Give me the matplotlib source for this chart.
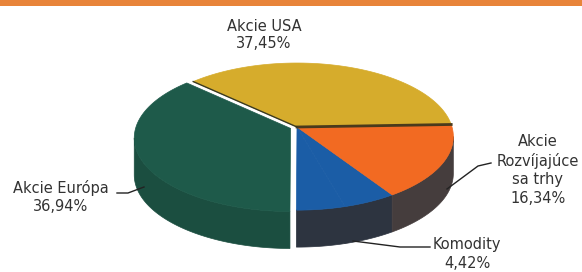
import numpy as np
import matplotlib.pyplot as plt
from matplotlib.patches import Polygon, Rectangle

# slices, counter-clockwise from the right edge
labels = ["Akcie USA", "Akcie Európa", "Komodity", "", "Akcie\nRozvíjajúce\nsa trhy"]
values = [37.45, 36.94, 4.42, 4.85, 16.34]   # 4.85 = unlabelled rest up to 100 %
pct_text = ["37,45%", "36,94%", "4,42%", "", "16,34%"]
top_colors = ["#d6ac2c", "#1e5a4a", "#1b5da6", "#1b5da6", "#f26a22"]
side_colors = ["#8c7326", "#1b4e40", "#2d3440", "#2d3440", "#453d3d"]
explode = [0, 7, 0, 0, 0]

fig = plt.figure(figsize=(5.82, 2.72), dpi=100)
ax = fig.add_axes([0, 0, 1, 1])
ax.set_xlim(0, 582)
ax.set_ylim(272, 0)
ax.axis("off")

# orange header strip
ax.add_patch(Rectangle((0, 0), 582, 6, color="#e8843a", lw=0))

# pie geometry (pixels) with a bit of perspective: back half is flatter
cx, cy, rx, ry, depth, k = 297, 127, 155, 72.3, 37, 0.13
start = 2
bounds = start + 360 * np.concatenate([[0], np.cumsum(values)]) / 100
edge = np.degrees(np.arcsin(k))   # silhouette angle of the perspective ellipse


def arc(a0, a1, dx, dy, n=80):
    th = np.radians(np.linspace(a0, a1, n))
    w = 1 + k * np.sin(th)
    return np.column_stack([cx + dx + rx * np.cos(th) / w,
                            cy + dy - ry * np.sin(th) / w])


offsets = []
for i in range(len(values)):
    mid = np.radians((bounds[i] + bounds[i + 1]) / 2)
    offsets.append((explode[i] * np.cos(mid), -explode[i] * np.sin(mid) * 0.5))

# front side walls
for i in range(len(values)):
    a0, a1 = bounds[i], bounds[i + 1]
    dx, dy = offsets[i]
    for lo, hi in [(180 + edge, 360 - edge), (540 + edge, 720 - edge)]:
        s, e = max(a0, lo), min(a1, hi)
        if e <= s:
            continue
        top = arc(s, e, dx, dy)
        bot = top[::-1] + [0, depth]
        ax.add_patch(Polygon(np.vstack([top, bot]), closed=True,
                             facecolor=side_colors[i], edgecolor=side_colors[i], lw=0.5))

# top surfaces
for i in range(len(values)):
    dx, dy = offsets[i]
    pts = np.vstack([[cx + dx, cy + dy], arc(bounds[i], bounds[i + 1], dx, dy)])
    ax.add_patch(Polygon(pts, closed=True, facecolor=top_colors[i],
                         edgecolor=top_colors[i], lw=0.5))

# darker seams around the USA slice
p = arc(bounds[0], bounds[0], 0, 0, 1)[0]
ax.plot([cx, p[0]], [cy, p[1]], color="#4a3a1c", lw=2)
p = arc(bounds[1], bounds[1], 0, 0, 1)[0]
ax.plot([cx, p[0]], [cy, p[1]], color="#3a3a22", lw=1)

font = dict(family="DejaVu Sans", size=10.5, color="#333333", ha="center", va="center")

ax.text(264, 35, labels[0] + "\n" + pct_text[0], linespacing=1.15, **font)
ax.text(61, 197, labels[1] + "\n" + pct_text[1], linespacing=1.3, **font)
ax.text(538, 170, labels[4] + "\n" + pct_text[4], linespacing=1.3, **font)
ax.text(467, 254, labels[2] + "\n" + pct_text[2], linespacing=1.3, **font)

# leader lines
ax.plot([117, 128, 144], [193, 193, 187], color="#222222", lw=1)
ax.plot([491, 478, 447], [163, 166, 189], color="#222222", lw=1)
ax.plot([353, 400, 430], [241, 247, 247], color="#222222", lw=1)

fig.savefig("out.png", dpi=100)
